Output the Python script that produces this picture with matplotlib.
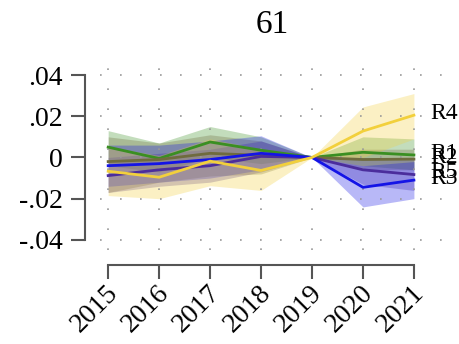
import matplotlib.pyplot as plt
import matplotlib.transforms as mtransforms
import numpy as np

plt.rcParams['font.family'] = ['Liberation Serif', 'DejaVu Serif']

years = [2015, 2016, 2017, 2018, 2019, 2020, 2021]

# coeficientes e intervalos por regiao
r1_mean = [0.005, -0.0005, 0.0075, 0.0035, 0, 0.0025, 0.0012]
r1_lo = [-0.004, -0.007, 0.0, -0.003, 0, -0.004, -0.006]
r1_hi = [0.013, 0.007, 0.015, 0.010, 0, 0.010, 0.009]

r2_mean = [-0.002, -0.001, 0.002, 0.001, 0, -0.001, -0.0008]
r2_lo = [-0.017, -0.012, -0.009, -0.008, 0, -0.006, -0.006]
r2_hi = [0.010, 0.007, 0.011, 0.008, 0, 0.004, 0.004]

r5_mean = [-0.0088, -0.006, -0.004, 0.0005, 0, -0.006, -0.0083]
r5_lo = [-0.017, -0.014, -0.012, -0.007, 0, -0.013, -0.016]
r5_hi = [0.000, 0.002, 0.004, 0.008, 0, 0.0, -0.001]

r3_mean = [-0.004, -0.003, -0.001, 0.002, 0, -0.0145, -0.011]
r3_lo = [-0.014, -0.012, -0.010, -0.006, 0, -0.024, -0.020]
r3_hi = [0.006, 0.006, 0.008, 0.0105, 0, -0.004, -0.002]

r4_mean = [-0.0067, -0.0096, -0.0018, -0.0063, 0, 0.0128, 0.0205]
r4_lo = [-0.0185, -0.020, -0.0137, -0.016, 0, 0.0, 0.009]
r4_hi = [0.005, 0.001, 0.009, 0.004, 0, 0.0245, 0.031]

nomes = ['R1', 'R2', 'R5', 'R3', 'R4']
series = [(r1_mean, r1_lo, r1_hi), (r2_mean, r2_lo, r2_hi), (r5_mean, r5_lo, r5_hi),
          (r3_mean, r3_lo, r3_hi), (r4_mean, r4_lo, r4_hi)]
cores = ['#3a8f22', '#6f6b3e', '#4b2d9c', '#1414e6', '#f2d03c']

yticks = [-0.04, -0.02, 0, 0.02, 0.04]
ytick_labels = ['-.04', '-.02', '0', '.02', '.04']

fig = plt.figure(figsize=(4.59, 3.44), dpi=100)
ax = fig.add_axes([0.2179, 0.2733, 0.806, 0.529])

ax.grid(True, color='#999999', linestyle=(0, (1, 11)), linewidth=1.2)

for nome, (m, lo, hi), cor in zip(nomes, series, cores):
    ax.fill_between(years, lo, hi, color=cor, alpha=0.3, linewidth=0)
    ax.plot(years, m, color=cor, linewidth=2)
    ax.text(years[-1] + 0.33, m[-1] + 0.0008, nome, fontsize=17, va='center', ha='left')

ax.set_xlim(2014.84, 2022.1)
ax.set_ylim(-0.0449, 0.0434)

ax.set_xticks(years)
ax.set_xticklabels([str(a) for a in years])
ax.set_yticks(yticks)
ax.set_yticklabels(ytick_labels)
ax.tick_params(axis='both', length=10, width=1.5, color='#555555', pad=6, labelsize=20)
ax.tick_params(axis='x', pad=6, labelrotation=45)

for lado in ['top', 'right']:
    ax.spines[lado].set_visible(False)
ax.spines['left'].set_position(('outward', 11))
ax.spines['bottom'].set_position(('outward', 11))
ax.spines['left'].set_bounds(-0.04, 0.04)
ax.spines['bottom'].set_bounds(2015, 2021)
for lado in ['left', 'bottom']:
    ax.spines[lado].set_color('#555555')
    ax.spines[lado].set_linewidth(1.5)

# desloca os anos um pouco para a direita
desloc = mtransforms.ScaledTranslation(6 / 100, -2 / 100, fig.dpi_scale_trans)
for lab in ax.get_xticklabels():
    lab.set_ha('right')
    lab.set_va('center')
    lab.set_rotation_mode('anchor')
    lab.set_transform(lab.get_transform() + desloc)

fig.text(0.593, 0.927, '61', fontsize=24, ha='center', va='center')

plt.savefig('out.png', dpi=100)
